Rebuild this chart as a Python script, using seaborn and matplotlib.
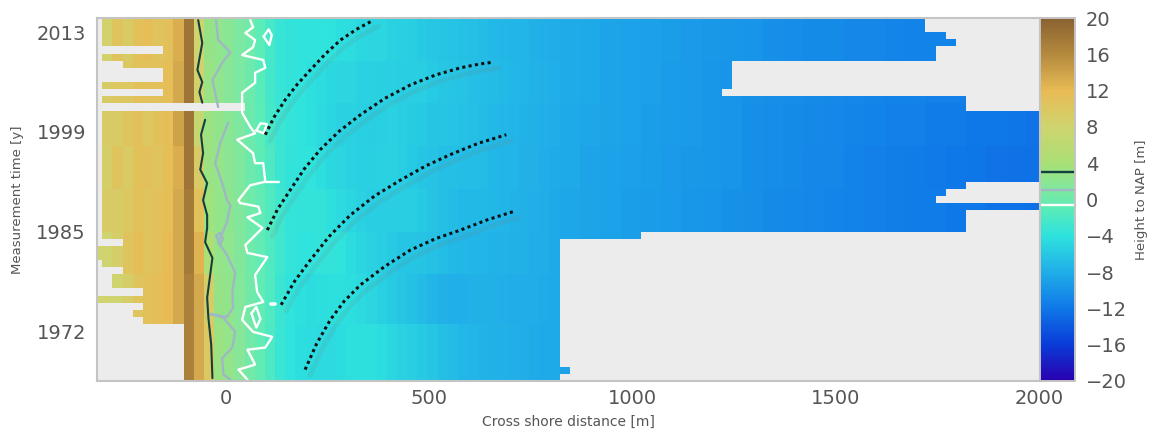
import numpy as np
import pandas as pd
import matplotlib
matplotlib.use("Agg")
import matplotlib.pyplot as plt
from matplotlib.colors import LinearSegmentedColormap
from matplotlib.transforms import ScaledTranslation
import seaborn as sns

# --- data -----------------------------------------------------------------
near_a = [8.0,8.5,10.5,9.5,11.0,11.5,10.5,11.0,13.0,18.0,8.0,2.8,2.2,1.8,0.8,0.2,-0.8,-2.2,-3.4,-3.7,-3.9,-3.8,-3.8,-4.0,-4.3,-4.5,-4.7,-4.9,-5.0,-5.2,-5.4,-5.6,-5.8,-6.0,-6.2,-6.3,-6.5,-6.7,-6.9,-7.1,-7.2,-7.4,-7.5,-7.7,-7.9,-8.0]
near_b = [8.0,9.5,10.0,10.0,11.0,11.0,11.0,11.5,13.5,18.0,8.5,2.9,2.2,1.7,0.9,0.0,-1.0,-2.4,-3.3,-3.6,-3.9,-4.1,-4.5,-4.7,-4.9,-5.0,-5.2,-5.3,-5.4,-5.4,-5.5,-5.5,-5.6,-5.8,-6.0,-6.2,-6.4,-6.6,-6.8,-7.0,-7.1,-7.3,-7.5,-7.6,-7.8,-7.9]
near_c = [8.5,9.5,9.5,10.5,11.0,10.0,11.0,11.5,14.0,18.0,7.0,3.0,2.4,1.8,1.0,0.0,-0.8,-2.2,-3.2,-3.5,-3.8,-4.2,-4.6,-4.9,-5.2,-5.3,-5.4,-5.5,-5.4,-5.3,-5.5,-5.7,-5.9,-6.1,-6.2,-6.4,-6.5,-6.7,-6.9,-7.1,-7.3,-7.5,-7.6,-7.8,-7.9,-8.1]
near_d = [8.0,9.0,10.5,9.5,11.0,11.0,10.5,11.5,13.0,18.0,9.5,3.1,2.6,2.0,1.1,0.1,-0.7,-1.8,-3.0,-3.6,-3.8,-3.9,-4.3,-4.7,-5.0,-5.2,-5.4,-5.4,-5.3,-5.3,-5.5,-5.8,-6.1,-6.4,-6.6,-6.7,-6.8,-6.8,-7.0,-7.2,-7.4,-7.5,-7.7,-7.8,-8.0,-8.2]
near_e = [8.5,9.5,9.5,10.0,11.0,10.5,11.0,11.5,13.5,17.5,11.0,3.4,2.5,2.1,1.3,0.3,-0.6,-1.6,-2.8,-3.5,-3.7,-3.6,-3.7,-4.1,-4.6,-5.0,-5.3,-5.5,-5.6,-5.5,-5.5,-5.6,-5.9,-6.3,-6.6,-6.9,-7.1,-7.1,-7.1,-7.2,-7.4,-7.6,-7.7,-7.9,-8.1,-8.3]
near_f = [8.0,8.0,9.0,10.5,11.5,10.5,11.0,12.0,13.5,17.5,12.5,4.5,2.6,2.2,1.4,0.3,-0.6,-1.6,-2.8,-3.5,-3.9,-3.8,-3.6,-3.6,-3.9,-4.4,-4.9,-5.3,-5.6,-5.9,-6.1,-6.2,-6.3,-6.5,-6.8,-7.1,-7.3,-7.4,-7.5,-7.6,-7.6,-7.7,-7.8,-8.0,-8.1,-8.3]
near_g = [8.0,8.0,8.0,9.0,10.5,11.0,11.5,12.0,13.5,17.0,13.5,9.0,2.8,2.4,1.5,0.4,-0.6,-1.7,-3.0,-3.8,-4.2,-4.4,-4.3,-4.2,-4.1,-4.3,-4.6,-5.0,-5.4,-5.8,-6.1,-6.5,-7.0,-7.5,-7.8,-7.9,-7.9,-7.8,-7.8,-7.8,-7.9,-8.0,-8.1,-8.1,-8.2,-8.3]
near_h = [8.0,8.0,8.0,8.0,8.0,8.0,9.0,11.5,13.0,17.0,13.5,10.0,3.0,2.5,1.6,0.4,-0.6,-1.8,-3.2,-3.9,-4.3,-4.5,-4.6,-4.6,-4.4,-4.2,-4.1,-4.2,-4.5,-4.9,-5.3,-5.6,-5.9,-6.2,-6.6,-7.0,-7.3,-7.5,-7.6,-7.7,-7.8,-7.9,-8.0,-8.2,-8.3,-8.4]

far_a = [-8.2,-8.4,-8.6,-8.8,-9.0,-9.2,-9.4,-9.6,-9.8,-10.0,-10.2,-10.4,-10.5,-10.6,-10.8,-10.9,-11.0,-11.1,-11.2,-11.2,-11.3,-11.4,-11.4,-11.5]
far_b = [-8.2,-8.4,-8.6,-8.8,-9.0,-9.3,-9.5,-9.7,-9.9,-10.1,-10.3,-10.4,-10.6,-10.7,-10.9,-11.0,-11.1,-11.2,-11.3,-11.3,-11.4,-11.5,-11.5,-11.6]
far_c = [-8.3,-8.5,-8.7,-8.9,-9.1,-9.3,-9.5,-9.8,-10.0,-10.2,-10.4,-10.5,-10.7,-10.8,-11.0,-11.1,-11.3,-11.4,-11.6,-11.7,-11.9,-12.0,-12.1,-12.2]
far_d = [-8.4,-8.6,-8.8,-9.0,-9.2,-9.4,-9.6,-9.8,-10.0,-10.2,-10.4,-10.6,-10.8,-10.9,-11.1,-11.3,-11.5,-11.6,-11.8,-12.0,-12.1,-12.3,-12.4,-12.5]
far_e = [-8.5,-8.7,-8.9,-9.1,-9.3,-9.5,-9.7,-9.9,-10.1,-10.3,-10.5,-10.7,-10.8,-11.0,-11.1,-11.3,-11.5,-11.6,-11.7,-11.9,-12.0,-12.2,-12.3,-12.4]
far_f = [-8.5,-8.7,-8.9,-9.1,-9.4,-9.6,-9.8,-10.0,-10.2,-10.4,-10.6,-10.8,-10.9,-11.1,-11.2,-11.4,-11.5,-11.7,-11.8,-11.9,-12.0,-12.1,-12.2,-12.3]
far_g = [-8.6,-8.8,-9.0,-9.2,-9.4,-9.6,-9.8,-10.0,-10.2,-10.4,-10.6,-10.8,-10.9,-11.1,-11.2,-11.4,-11.5,-11.7,-11.8,-11.9,-12.0,-12.1,-12.2,-12.3]
far_h = [-8.7,-8.9,-9.1,-9.3,-9.5,-9.7,-9.9,-10.1,-10.3,-10.5,-10.7,-10.9,-11.0,-11.2,-11.3,-11.5,-11.6,-11.8,-11.9,-12.0,-12.1,-12.2,-12.3,-12.4]

band_sizes = [6, 6, 6, 6, 6, 6, 7, 8]
first_x = -330
cell_m = 25

left_start = [-305,-305,-305,-305,-155,-305,-255,-155,-155,-305,-155,-305,45,
              -305,-305,-305,-305,-305,-305,-305,-305,-305,-305,-305,-305,-305,
              -305,-305,-305,-305,-305,-255,-330,-330,-305,-255,-280,-280,-205,
              -330,-205,-230,-205,-105,-105,-105,-105,-105,-105,-105,-105]
right_end = [1720,1720,1770,1795,1745,1745,1245,1245,1245,1245,1220,1820,1820,
             2020,2020,2020,2020,2020,2020,2020,2020,2020,2020,1820,1770,1745,
             2020,1820,1820,1820,1020,820,820,820,820,820,820,820,820,820,820,
             820,820,820,820,820,820,820,820,845,820]

year_labels = ["2013", "1999", "1985", "1972"]
year_rows = [2.1, 16.0, 30.0, 44.0]
dist_ticks = [0, 500, 1000, 1500, 2000]
cbar_ticks = [-20, -16, -12, -8, -4, 0, 4, 8, 12, 16, 20]

# contours: (cross shore metres, row)
dark_upper = [(-69,.3),(-59,3.5),(-71,7.3),(-59,9),(-66,10.4),(-59,11.9)]
dark_lower = [(-52,14.3),(-62,16.4),(-57,19),(-64,21.3),(-47,23.2),(-57,25.6),(-47,27.7),
              (-47,29.5),(-52,31.5),(-34,33.7),(-47,39.3),(-44,42.1),(-37,45.9),(-34,50.6)]
grey_upper = [(-25,.3),(-20,3.1),(10,4.8),(-10,6.3),(-34,8.7),(-20,12.5)]
grey_lower = [(5,14.7),(-15,17.6),(-27,20.4),(-10,23.2),(2,25.6),(10,26.3),(2,28.7),(-20,31.5),
              (2,33.3),(22,35.8),(15,38.5),(17,40.7),(2,42),(-39,41.6),(-7,42.1),(22,44.1),
              (15,46.3),(-10,47.8),(-7,50.1),(10,50.8)]
grey_ring = [(-25,30.6),(-15,30.2),(-8,31),(-15,31.8),(-25,30.6)]
white_main = [(59,.3),(66,1.3),(47,2.1),(71,3.1),(66,4.1),(39,5.2),(91,5.9),(96,7),(71,7.7),
              (71,9.1),(39,10.5),(39,13.3),(59,15.3),(71,16.2),(27,17.1),(66,19),(71,20.4),
              (91,20.4),(96,23),(59,23.5),(30,25.6),(34,26),(79,26.5),(84,27.4),(52,28),
              (89,29.5),(47,31.9),(52,33),(101,33.6),(71,36.1),(76,38.5),(91,39.9),(47,40.6),
              (39,42.4),(66,44.1),(113,44.8),(96,46.3),(52,46.6),(71,48.7),(30,49.4),(52,50.8)]
white_spur = [(96,23.1),(130,23.1)]
white_ring_a = [(92,2.6),(104,1.6),(112,2.4),(106,3.8),(92,2.6)]
white_ring_b = [(74,15.8),(84,14.8),(100,14.9),(92,16.2),(74,15.8)]
white_ring_c = [(62,41.5),(74,40.6),(84,42.3),(74,43.5),(62,41.5)]
white_dot = [(110,40.2),(120,40.2)]

bar_1 = [(96,16.4),(118,13.9),(145,11.5),(175,9.3),(207,7.3),(243,5.1),(281,3.1),(320,1.6),(362,.3)]
bar_2 = [(101,29.8),(126,26.9),(157,24.2),(192,21.2),(231,18.5),(278,15.9),(330,13.6),(390,11.3),
         (453,9.4),(515,8.0),(576,7),(620,6.5),(657,6.2)]
bar_3 = [(135,40.3),(168,37),(207,34),(253,30.7),(305,27.7),(365,25),(428,22.8),(490,20.8),(551,19.2),
         (620,17.6),(689,16.4)]
bar_4 = [(194,49.4),(222,45.8),(256,42.4),(290,39.8),(330,37.5),(390,34.9),(453,32.6),(515,31),
         (576,29.8),(640,28.4),(706,27.2)]

contour_levels = [3.0, 1.05, -0.6]
contour_colors = ["#123f3f", "#9fb8c4", "#ffffff"]

color_stops = [(-20,"#2a00b0"),(-16,"#0a3cd8"),(-12,"#0f78e8"),(-8,"#20aee8"),(-4,"#2ee2de"),
               (-1,"#5aecb8"),(1,"#7ee8a0"),(4,"#a8e075"),(8,"#cfd46e"),(12,"#e8bb55"),
               (16,"#b58a3e"),(20,"#8a6230")]

# --- assemble table --------------------------------------------------------
near = [near_a, near_b, near_c, near_d, near_e, near_f, near_g, near_h]
far = [far_a, far_b, far_c, far_d, far_e, far_f, far_g, far_h]
bands = [np.r_[np.array(n), np.repeat(far_i, 2)] for n, far_i in zip(near, far)]
heights = np.repeat(np.vstack(bands), band_sizes, axis=0)
n_rows, n_cols = heights.shape
centres = first_x + cell_m * (np.arange(n_cols) + 0.5)
edges_left = centres - cell_m / 2
mask = np.zeros_like(heights, dtype=bool)
for r in range(n_rows):
    mask[r] = (centres < left_start[r]) | (centres > right_end[r])
table = pd.DataFrame(heights, columns=edges_left, index=np.arange(n_rows))

def cell(x):
    return (np.asarray(x, dtype=float) - first_x) / cell_m

# --- draw -------------------------------------------------------------------
sns.set_theme(style="white")
W, H = 1151, 434
fig = plt.figure(figsize=(W / 100, H / 100), dpi=100)
ax = fig.add_axes([97 / W, (H - 381) / H, 943 / W, 363 / H])
cax = fig.add_axes([1040 / W, (H - 381) / H, 35 / W, 363 / H])

cmap = LinearSegmentedColormap.from_list(
    "nap", [((v + 20) / 40, c) for v, c in color_stops], N=256)
sns.heatmap(table, mask=mask, cmap=cmap, vmin=-20, vmax=20, ax=ax, cbar_ax=cax,
            xticklabels=False, yticklabels=False, rasterized=True,
            cbar_kws={"ticks": cbar_ticks})
ax.set_facecolor("#ececec")

def line(points, **kw):
    xs, rs = zip(*points)
    return ax.plot(cell(xs), rs, solid_joinstyle="round", **kw)

for pts in (white_main, white_spur, white_ring_a, white_ring_b, white_ring_c):
    line(pts, color=contour_colors[2], lw=1.7)
line(white_dot, color=contour_colors[2], lw=2.6)
for pts in (grey_upper, grey_lower, grey_ring):
    line(pts, color=contour_colors[1], lw=1.7)
for pts in (dark_upper, dark_lower):
    line(pts, color=contour_colors[0], lw=1.5)

shadow = ScaledTranslation(5 / 100, -6 / 100, fig.dpi_scale_trans)
for pts in (bar_1, bar_2, bar_3, bar_4):
    line(pts, color="#708080", lw=3.5, alpha=0.14, transform=ax.transData + shadow)
    line(pts, color="#111111", lw=2.2, linestyle=(0, (1, 1.1)))

ax.set_xlim(cell(-318), cell(2002))
ax.set_ylim(n_rows, 0)
ax.set_xticks(cell(dist_ticks))
ax.set_xticklabels([str(v) for v in dist_ticks])
ax.set_yticks(year_rows)
ax.set_yticklabels(year_labels, rotation=0)
text_c = "#555555"
ax.tick_params(axis="both", length=0, labelsize=14, labelcolor=text_c, pad=8)
ax.tick_params(axis="x", pad=6)
ax.set_xlabel("Cross shore distance [m]", fontsize=10, color=text_c, labelpad=5)
ax.set_ylabel("Measurement time [y]", fontsize=9.5, color=text_c, labelpad=9)
for s in ax.spines.values():
    s.set_visible(True)
    s.set_color("#c4c4c4")
    s.set_linewidth(1.5)

for lev, col in zip(contour_levels, contour_colors):
    cax.axhline(lev, color=col, lw=1.7)
cax.tick_params(axis="y", length=0, labelsize=14, labelcolor=text_c, pad=8)
cax.set_ylabel("Height to NAP [m]", fontsize=9.5, color=text_c, va="center")
cax.yaxis.set_label_coords(2.89, 0.5)
for s in cax.spines.values():
    s.set_visible(True)
    s.set_color("#c4c4c4")
    s.set_linewidth(1.2)

fig.savefig("out.png", dpi=100, facecolor="white")
